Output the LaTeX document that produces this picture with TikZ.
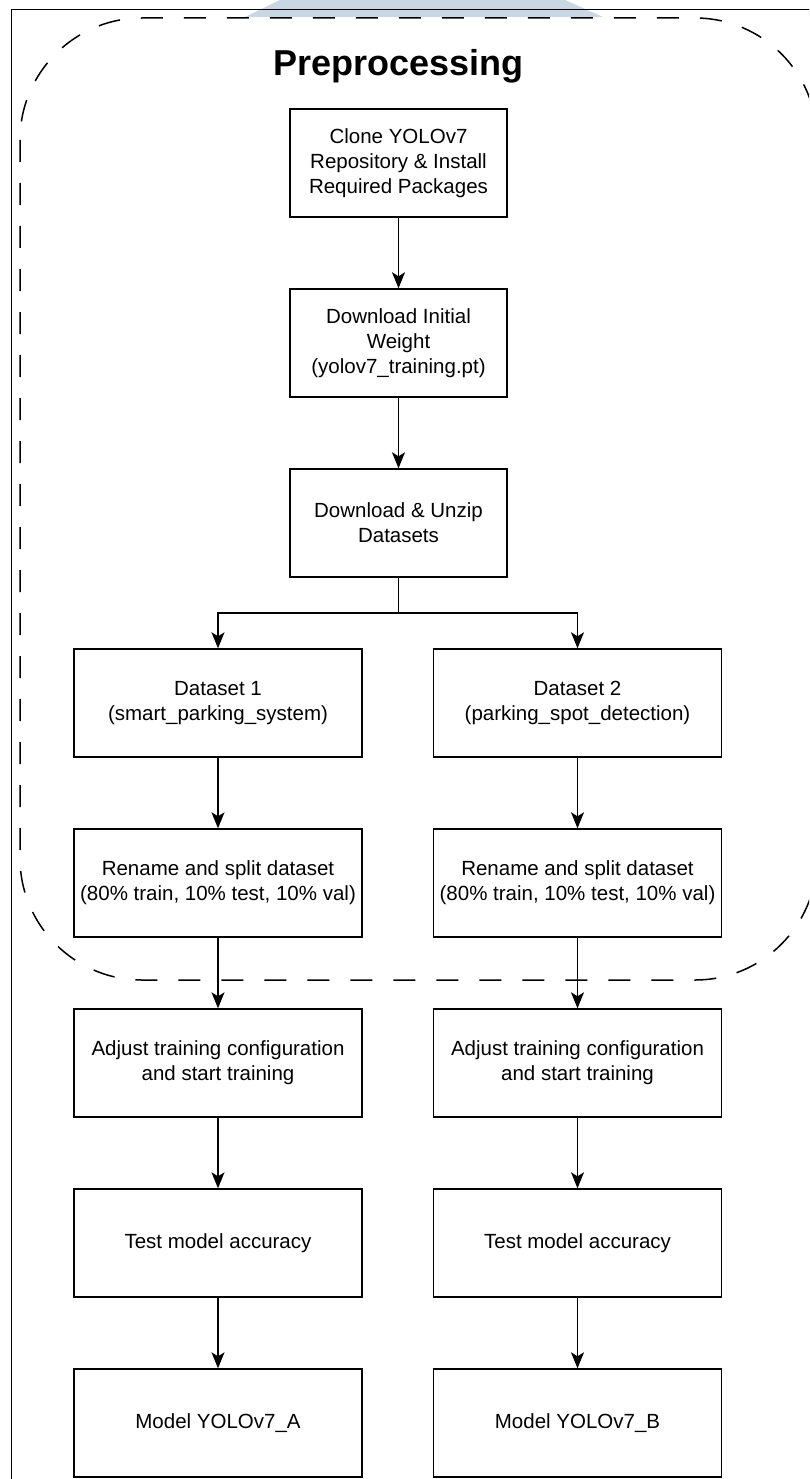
\documentclass[tikz,border=0pt]{standalone}
\usepackage{fontspec}
\setmainfont{Liberation Sans}
\usetikzlibrary{arrows.meta}
\definecolor{wmark}{RGB}{201,214,228}
\begin{document}
\begin{tikzpicture}[x=1pt,y=-1pt,
  stepbox/.style={draw=black, line width=1.4pt, align=center, inner sep=0pt,
    font=\fontsize{20.5}{25}\selectfont, minimum height=108pt},
  topbox/.style={stepbox, minimum width=217pt},
  sidebox/.style={stepbox, minimum width=288pt},
  flow/.style={line width=1.4pt, -{Stealth[length=16pt,width=13pt,inset=4pt]}},
  groupline/.style={line width=1.5pt, dash pattern=on 22pt off 21pt, rounded corners=122pt},
]
\useasboundingbox (0,0) rectangle (809,1479);
\clip (0,0) rectangle (809,1479);

% faint banner at the top edge
\fill[wmark] (280,0) -- (565,0) -- (603,17) -- (245,17) -- cycle;

% outer frame
\draw[line width=1pt] (11,1490) -- (11,10) -- (830,10);

% dashed preprocessing group
\draw[groupline] (20,18) rectangle (817,980);
\node[font=\bfseries\fontsize{36}{40}\selectfont, anchor=base] (title) at (398.5,76) {Preprocessing};

% central column
\node[topbox] (clone)  at (398.5,163) {Clone YOLOv7\\Repository \& Install\\Required Packages};
\node[topbox] (weight) at (398.5,343) {Download Initial\\Weight\\(yolov7\_training.pt)};
\node[topbox] (unzip)  at (398.5,523) {Download \& Unzip\\Datasets};

% two dataset branches
\node[sidebox] (dsA) at (218,703)   {Dataset 1\\(smart\_parking\_system)};
\node[sidebox] (dsB) at (577.5,703) {Dataset 2\\(parking\_spot\_detection)};

\node[sidebox] (splitA) at (218,883)   {Rename and split dataset\\(80\% train, 10\% test, 10\% val)};
\node[sidebox] (splitB) at (577.5,883) {Rename and split dataset\\(80\% train, 10\% test, 10\% val)};

\node[sidebox] (trainA) at (218,1063)   {Adjust training configuration\\and start training};
\node[sidebox] (trainB) at (577.5,1063) {Adjust training configuration\\and start training};

\node[sidebox] (testA) at (218,1243)   {Test model accuracy};
\node[sidebox] (testB) at (577.5,1243) {Test model accuracy};

\node[sidebox] (modelA) at (218,1423)   {Model YOLOv7\_A};
\node[sidebox] (modelB) at (577.5,1423) {Model YOLOv7\_B};

% connectors
\coordinate (fork) at (398.5,613);
\draw[flow] (clone) -- (weight);
\draw[flow] (weight) -- (unzip);
\draw[line width=1.4pt] (unzip.south) -- (fork);
\draw[flow] (fork) -| (dsA.north);
\draw[flow] (fork) -| (dsB.north);

\draw[flow] (dsA) -- (splitA);
\draw[flow] (dsB) -- (splitB);
\draw[flow] (splitA) -- (trainA);
\draw[flow] (splitB) -- (trainB);
\draw[flow] (trainA) -- (testA);
\draw[flow] (trainB) -- (testB);
\draw[flow] (testA) -- (modelA);
\draw[flow] (testB) -- (modelB);
\end{tikzpicture}
\end{document}
